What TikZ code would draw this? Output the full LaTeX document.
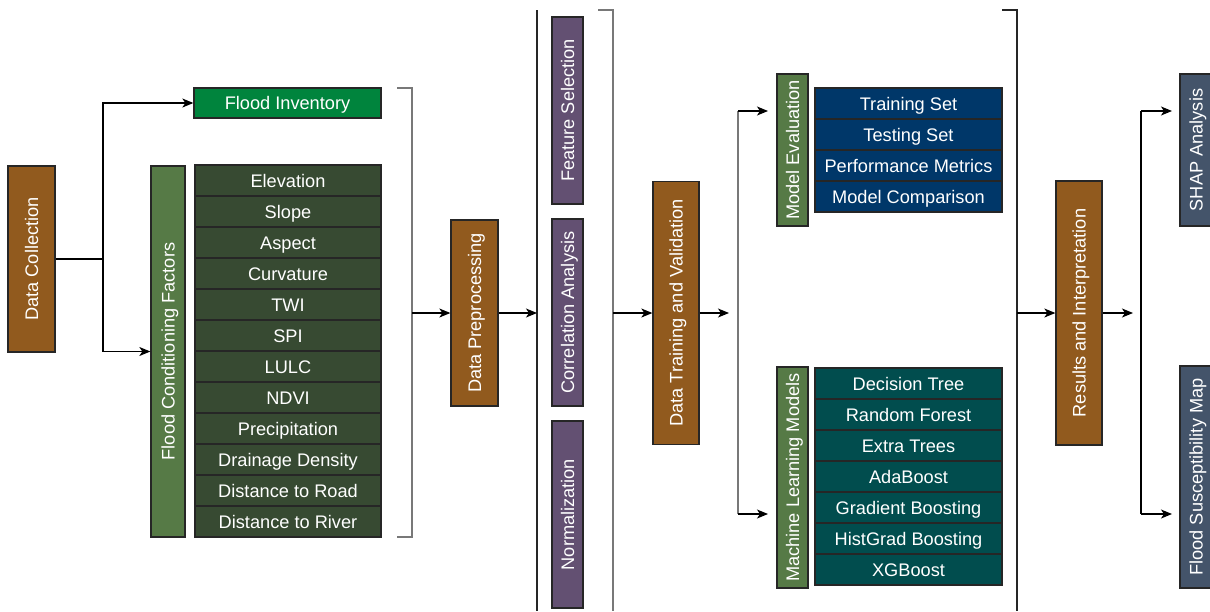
\documentclass[tikz,border=0pt]{standalone}
\usepackage{fontspec}
\setmainfont{Liberation Sans}
\usetikzlibrary{arrows.meta}
\definecolor{cbrown}{RGB}{145,90,30}
\definecolor{cfi}{RGB}{0,132,61}
\definecolor{clab}{RGB}{86,122,70}
\definecolor{cfac}{RGB}{55,74,50}
\definecolor{cpur}{RGB}{99,80,114}
\definecolor{cblue}{RGB}{0,55,105}
\definecolor{cteal}{RGB}{1,77,78}
\definecolor{cslate}{RGB}{68,84,106}
\definecolor{cgray}{RGB}{120,120,120}
\tikzset{
  box/.style={draw=black!85, line width=1.3pt, rectangle, inner sep=0pt, text=white,
    font=\fontsize{18.2}{21}\selectfont, text height=16pt, text depth=3pt},
  vbox/.style={box, rotate=90},
  arr/.style={-{Stealth[length=11pt,width=9pt,inset=3pt]}, line width=1.2pt, black},
  conn/.style={line width=1.2pt, black},
  brk/.style={line width=1.2pt, cgray},
  brkd/.style={line width=1.4pt, black!85},
}
\begin{document}
\begin{tikzpicture}[x=1pt,y=-1pt]
\useasboundingbox (0,0) rectangle (1210,611);
% Data collection (rotated nodes: north = left side, south = right side)
\node[vbox, fill=cbrown, minimum width=186, minimum height=47] (dc) at (31.5,259) {Data Collection};
\node[box, fill=cfi, minimum width=187, minimum height=30] (fi) at (287.5,103) {Flood Inventory};
\node[vbox, fill=clab, minimum width=371, minimum height=34] (fcf) at (168,351.5) {Flood Conditioning Factors};
\foreach \t [count=\i] in {Elevation,Slope,Aspect,Curvature,TWI,SPI,LULC,NDVI,Precipitation,Drainage Density,Distance to Road,Distance to River}
  \node[box, fill=cfac, minimum width=186, minimum height=31] (f\i) at (288,{165+31*(\i-0.5)}) {\t};
\coordinate (j1) at (103,259);
\draw[conn] (dc.south) -- (j1);
\draw[arr] (j1) |- (fi.west);
\draw[arr] (j1) |- (fcf.north);
% bracket 1
\coordinate (b1a) at (397,88);
\coordinate (b1b) at (412,88);
\coordinate (b1c) at (412,537);
\coordinate (b1d) at (397,537);
\coordinate (b1m) at (412,313);
\draw[brk] (b1a) -- (b1b) -- (b1c) -- (b1d);
\node[vbox, fill=cbrown, minimum width=186, minimum height=47] (dp) at (474.5,313) {Data Preprocessing};
\draw[arr] (b1m) -- (dp.north);
% line 2
\coordinate (l2t) at (537,10);
\coordinate (l2b) at (537,611);
\coordinate (l2m) at (537,313);
\draw[brkd] (l2t) -- (l2b);
\draw[arr] (dp.south) -- (l2m);
\node[vbox, fill=cpur, minimum width=187, minimum height=31] (fs) at (567.5,110.5) {Feature Selection};
\node[vbox, fill=cpur, minimum width=187, minimum height=31] (ca) at (567.5,312.5) {Correlation Analysis};
\node[vbox, fill=cpur, minimum width=187, minimum height=31] (nm) at (567.5,514.5) {Normalization};
% bracket 2
\coordinate (b2a) at (598,10);
\coordinate (b2b) at (613,10);
\coordinate (b2c) at (613,611);
\coordinate (b2m) at (613,313);
\draw[brk] (b2a) -- (b2b) -- (b2c);
\node[vbox, fill=cbrown, minimum width=263, minimum height=46] (dtv) at (676,313) {Data Training and Validation};
\draw[arr] (b2m) -- (dtv.north);
\coordinate (dtvo) at (729,313);
\draw[arr] (dtv.south) -- (dtvo);
% split
\coordinate (v1t) at (738,111);
\coordinate (v1b) at (738,514);
\coordinate (meIn) at (768,111);
\coordinate (mlIn) at (768,514);
\draw[brk] (v1t) -- (v1b);
\draw[arr] (v1t) -- (meIn);
\draw[arr] (v1b) -- (mlIn);
\node[vbox, fill=clab, minimum width=152, minimum height=31] (me) at (792.5,150) {Model Evaluation};
\foreach \t [count=\i] in {Training Set,Testing Set,Performance Metrics,Model Comparison}
  \node[box, fill=cblue, minimum width=187, minimum height=31] (e\i) at (908.5,{88+31*(\i-0.5)}) {\t};
\node[vbox, fill=clab, minimum width=221, minimum height=31] (ml) at (792.5,477.5) {Machine Learning Models};
\foreach \t [count=\i] in {Decision Tree,Random Forest,Extra Trees,AdaBoost,Gradient Boosting,HistGrad Boosting,XGBoost}
  \node[box, fill=cteal, minimum width=187, minimum height=31] (m\i) at (908.5,{368+31*(\i-0.5)}) {\t};
% bracket 3
\coordinate (b3a) at (1002,10);
\coordinate (b3b) at (1017,10);
\coordinate (b3c) at (1017,611);
\coordinate (b3m) at (1017,313);
\draw[brkd] (b3a) -- (b3b) -- (b3c);
\node[vbox, fill=cbrown, minimum width=264, minimum height=46] (ri) at (1079,313) {Results and Interpretation};
\draw[arr] (b3m) -- (ri.north);
\coordinate (rio) at (1133,313);
\draw[arr] (ri.south) -- (rio);
\coordinate (v2t) at (1141,111);
\coordinate (v2b) at (1141,514);
\coordinate (shIn) at (1172,111);
\coordinate (fsIn) at (1172,514);
\draw[conn] (v2t) -- (v2b);
\draw[arr] (v2t) -- (shIn);
\draw[arr] (v2b) -- (fsIn);
\node[vbox, fill=cslate, minimum width=152, minimum height=32] (shap) at (1196,150) {SHAP Analysis};
\node[vbox, fill=cslate, minimum width=222, minimum height=32] (fsm) at (1196,477) {Flood Susceptibility Map};
\end{tikzpicture}
\end{document}
